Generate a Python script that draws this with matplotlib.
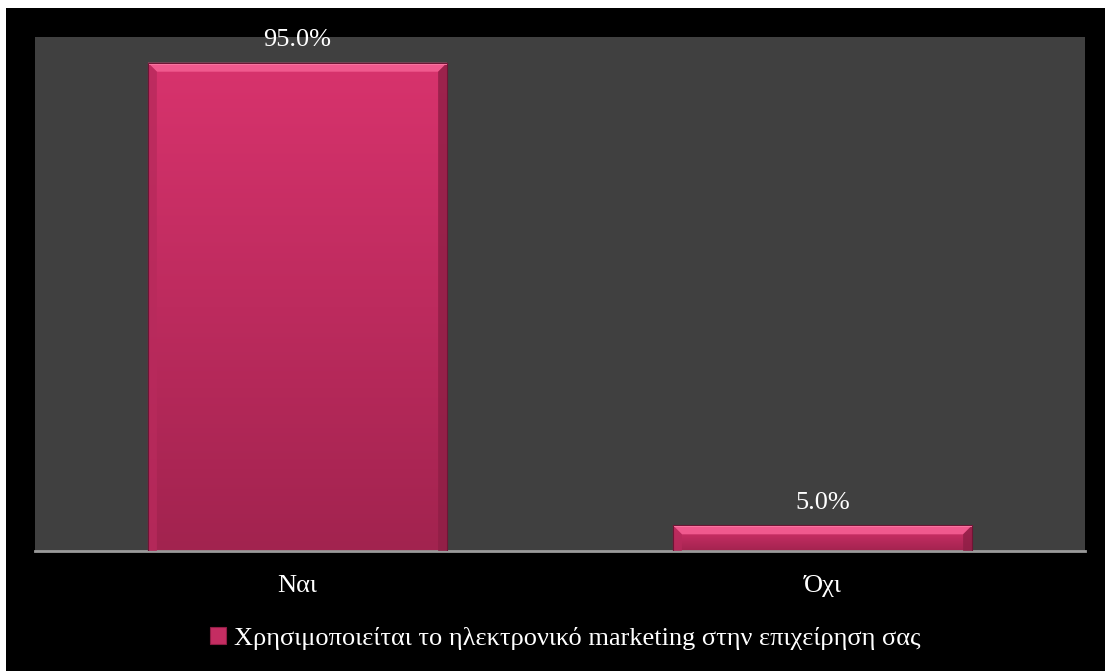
import numpy as np
import matplotlib.pyplot as plt
from matplotlib.patches import Rectangle, Polygon
from matplotlib.colors import LinearSegmentedColormap

categories = ["Ναι", "Όχι"]
values = [95.0, 5.0]
series_name = "Χρησιμοποιείται το ηλεκτρονικό marketing στην επιχείρηση σας"

plt.rcParams['font.family'] = ['Liberation Serif', 'DejaVu Serif']

W, H = 1105, 671
fig = plt.figure(figsize=(W / 100, H / 100), dpi=100, facecolor="white")
# black slide background with a thin white margin top/left
fig.patches.append(Rectangle((6 / W, 0), 1 - 6 / W, 1 - 8 / H,
                             transform=fig.transFigure, facecolor="black",
                             edgecolor="none", zorder=-10))

ax_l, ax_r, ax_t, ax_b = 35, 1085, 37, 551
ax = fig.add_axes([ax_l / W, 1 - ax_b / H, (ax_r - ax_l) / W, (ax_b - ax_t) / H])
ax.set_zorder(1)
ax.set_facecolor("#404040")
ax.set_xlim(-0.5, 1.5)
ax.set_ylim(0, 100)

x = np.arange(len(categories))
bars = ax.bar(x, values, width=0.57, color="none", edgecolor="none", zorder=2)

grad = LinearSegmentedColormap.from_list("pink", ["#A2234F", "#D8336D"])
px_x = 2.0 / (ax_r - ax_l)
px_y = 100.0 / (ax_b - ax_t)
bev = 9

for b in bars:
    x0, y0 = b.get_x(), b.get_y()
    x1, y1 = x0 + b.get_width(), y0 + b.get_height()
    g = np.linspace(0, 1, 256).reshape(-1, 1)
    im = ax.imshow(g, cmap=grad, origin="lower", aspect="auto",
                   extent=(x0, x1, y0, y1), zorder=2)
    im.set_clip_path(b)
    bx, by = bev * px_x, min(bev * px_y, (y1 - y0) / 2)
    # bevel facets
    ax.add_patch(Polygon([(x0, y1), (x1, y1), (x1 - bx, y1 - by), (x0 + bx, y1 - by)],
                         closed=True, facecolor="#F0598E", edgecolor="none", zorder=3))
    ax.add_patch(Polygon([(x0, y1), (x0 + bx, y1 - by), (x0 + bx, y0), (x0, y0)],
                         closed=True, facecolor="#B82A5C", edgecolor="none", alpha=0.8, zorder=3))
    ax.add_patch(Polygon([(x1, y1), (x1 - bx, y1 - by), (x1 - bx, y0), (x1, y0)],
                         closed=True, facecolor="#8E1E45", edgecolor="none", alpha=0.8, zorder=3))
    ax.add_patch(Rectangle((x0, y1 - 2 * px_y), x1 - x0, 1.5 * px_y,
                           facecolor="#FF7AA6", edgecolor="none", zorder=4))
    ax.add_patch(Rectangle((x0, y0), x1 - x0, y1 - y0, facecolor="none",
                           edgecolor="#6E1535", linewidth=0.8, zorder=5))

for xi, v in zip(x, values):
    ax.annotate(f"{v:.1f}%", (xi, v), xytext=(0, 12), textcoords="offset points",
                ha="center", va="baseline", color="white", fontsize=19)

ax.set_xticks(x)
ax.set_xticklabels(categories, color="white", fontsize=19)
ax.tick_params(axis="x", length=0, pad=17)
ax.set_yticks([])
for s in ["top", "right", "left"]:
    ax.spines[s].set_visible(False)
ax.spines["bottom"].set_color("#9A9A9A")
ax.spines["bottom"].set_linewidth(2)

handle = Rectangle((0, 0), 1, 1, facecolor="#C42D62", edgecolor="#8E1E45", linewidth=0.8)
fig.legend([handle], [series_name], loc="center", bbox_to_anchor=(565 / W, 1 - 638 / H),
           frameon=False, fontsize=19, labelcolor="white", handlelength=0.6,
           handleheight=0.6, handletextpad=0.3)

fig.savefig("out.png", dpi=100, facecolor="white")
